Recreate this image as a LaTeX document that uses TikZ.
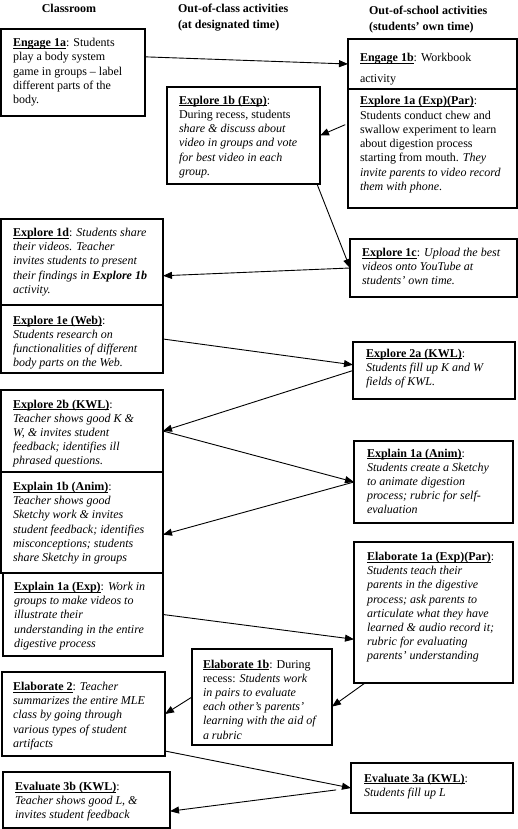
\documentclass[tikz,border=0pt]{standalone}
\usepackage{fontspec}
\setmainfont{Liberation Serif}
\usetikzlibrary{arrows.meta,calc}
\newsavebox\actlabelbox
\newcommand\actlabel[1]{\leavevmode\sbox\actlabelbox{\textbf{#1}}\rlap{\vrule height -1.1pt depth 1.9pt width \wd\actlabelbox}\usebox\actlabelbox}
\newcommand\actbox[8]{%
  \node[boxst, minimum width=#4pt, minimum height=#5pt] (#1) at (#2,#3) {};
  \node[txt] (#1-t) at ($(#1.north west)+(#6,#7-9.94)$) {\strut #8};
}
\tikzset{
  boxst/.style={draw, line width=1.1pt, inner sep=0pt, outer sep=0pt, anchor=north west},
  txt/.style={inner sep=0pt, outer sep=0pt, align=left, anchor=north west, font=\fontsize{12}{14.2}\selectfont},
  hdr/.style={inner sep=0pt, outer sep=0pt, font=\fontsize{12}{14}\selectfont\bfseries},
  arr/.style={line width=0.9pt, -{Triangle[length=9pt,width=7pt]}},
}
\begin{document}
\begin{tikzpicture}[x=1pt,y=-1pt]
\useasboundingbox (0,0) rectangle (518,829);
% headers
\node[hdr, anchor=base] (hc) at (69,13) {Classroom};
\node[hdr, anchor=base west] (ho1) at (178,13) {Out-of-class activities};
\node[hdr, anchor=base west] (ho2) at (178,28.5) {(at designated time)};
\node[hdr, anchor=base west] (hs1) at (369,15) {Out-of-school activities};
\node[hdr, anchor=base west] (hs2) at (369,30.5) {(students’ own time)};
% boxes
\actbox{e1a}{1}{29}{144}{87}{12}{17.7}{\actlabel{Engage 1a}: Students\\ play a body system\\ game in groups – label\\ different parts of the\\ body.}
\actbox{e1b}{348}{39}{169}{50}{12}{22.5}{\actlabel{Engage 1b}: Workbook\\[6.5pt] activity}
\actbox{x1b}{167}{87}{153}{97}{12}{17.3}{\actlabel{Explore 1b (Exp)}:\\ During recess, students\\ \textit{share \& discuss about}\\ \textit{video in groups and vote}\\ \textit{for best video in each}\\ \textit{group.}}
\actbox{x1a}{348}{89}{169}{119}{12}{16}{\actlabel{Explore 1a (Exp)(Par)}:\\ Students conduct chew and\\ swallow experiment to learn\\ about digestion process\\ starting from mouth. \textit{They}\\ \textit{invite parents to video record}\\ \textit{them with phone.}}
\actbox{x1d}{1}{219}{162}{86}{12}{17.5}{\actlabel{Explore 1d}: \textit{Students share}\\ \textit{their videos. Teacher}\\ \textit{invites students to present}\\ \textit{their findings in} \textbf{\textit{Explore 1b}}\\ \textit{activity.}}
\actbox{x1c}{350}{239}{167}{58}{12}{17.5}{\actlabel{Explore 1c}: \textit{Upload the best}\\ \textit{videos onto YouTube at}\\ \textit{students’ own time.}}
\actbox{x1e}{1}{305}{162}{68}{12}{19}{\actlabel{Explore 1e (Web)}:\\ \textit{Students research on}\\ \textit{functionalities of different}\\ \textit{body parts on the Web.}}
\actbox{x2a}{353}{342}{162}{57}{13}{15}{\actlabel{Explore 2a (KWL)}:\\ \textit{Students fill up K and W}\\ \textit{fields of KWL.}}
\actbox{x2b}{1}{390}{162}{82}{12}{18}{\actlabel{Explore 2b (KWL)}:\\ \textit{Teacher shows good K \&}\\ \textit{W, \& invites student}\\ \textit{feedback; identifies ill}\\ \textit{phrased questions.}}
\actbox{xpa}{354}{441}{159}{82}{13}{16}{\actlabel{Explain 1a (Anim)}:\\ \textit{Students create a Sketchy}\\ \textit{to animate digestion}\\ \textit{process; rubric for self-}\\ \textit{evaluation}}
\actbox{xpb}{1}{472}{162}{101}{12}{18.5}{\actlabel{Explain 1b (Anim)}:\\ \textit{Teacher shows good}\\ \textit{Sketchy work \& invites}\\ \textit{student feedback; identifies}\\ \textit{misconceptions; students}\\ \textit{share Sketchy in groups}}
\actbox{la}{354}{542}{159}{141}{13}{18.5}{\actlabel{Elaborate 1a (Exp)(Par)}:\\ \textit{Students teach their}\\ \textit{parents in the digestive}\\ \textit{process; ask parents to}\\ \textit{articulate what they have}\\ \textit{learned \& audio record it;}\\ \textit{rubric for evaluating}\\ \textit{parents’ understanding}}
\actbox{xpe}{3}{573}{160}{83}{11}{17.5}{\actlabel{Explain 1a (Exp)}: \textit{Work in}\\ \textit{groups to make videos to}\\ \textit{illustrate their}\\ \textit{understanding in the entire}\\ \textit{digestive process}}
\actbox{lb}{192}{649}{140}{96}{11}{19}{\actlabel{Elaborate 1b}: During\\ recess: \textit{Students work}\\ \textit{in pairs to evaluate}\\ \textit{each other’s parents’}\\ \textit{learning with the aid of}\\ \textit{a rubric}}
\actbox{l2}{2}{672}{163}{84}{11}{18.5}{\actlabel{Elaborate 2}: \textit{Teacher}\\ \textit{summarizes the entire MLE}\\ \textit{class by going through}\\ \textit{various types of student}\\ \textit{artifacts}}
\actbox{v3a}{351}{763}{162}{50}{13}{19}{\actlabel{Evaluate 3a (KWL)}:\\ \textit{Students fill up L}}
\actbox{v3b}{3}{772}{167}{56}{12}{18.5}{\actlabel{Evaluate 3b (KWL)}:\\ \textit{Teacher shows good L, \&}\\ \textit{invites student feedback}}
% connectors
\draw[arr] ($(e1a.north east)!0.32!(e1a.south east)$) -- (e1b.west);
\draw[arr, shorten <=3pt] ($(x1a.north west)!0.29!(x1a.south west)$) -- (x1b.east);
\draw[arr] ($(x1b.south east)+(-3,0)$) -- (x1c.west);
\draw[arr] (x1c.west) -- ($(x1d.north east)!0.66!(x1d.south east)$);
\draw[arr] (x1e.east) -- ($(x2a.north west)!0.4!(x2a.south west)$);
\draw[arr] (x2a.west) -- (x2b.east);
\draw[arr] (x2b.east) -- (xpa.west);
\draw[arr] (xpa.west) -- ($(xpb.north east)!0.62!(xpb.south east)$);
\draw[arr] (xpe.east) -- ($(la.north west)!0.69!(la.south west)$);
\draw[arr] ($(la.south west)+(11,0)$) -- ($(lb.north east)!0.6!(lb.south east)$);
\draw[arr] (lb.west) -- (l2.east);
\draw[arr] ($(l2.south east)+(0,-5)$) -- (v3a.west);
\draw[arr, shorten <=15pt] (v3a.west) -- ($(v3b.north east)!0.7!(v3b.south east)$);
\end{tikzpicture}
\end{document}
